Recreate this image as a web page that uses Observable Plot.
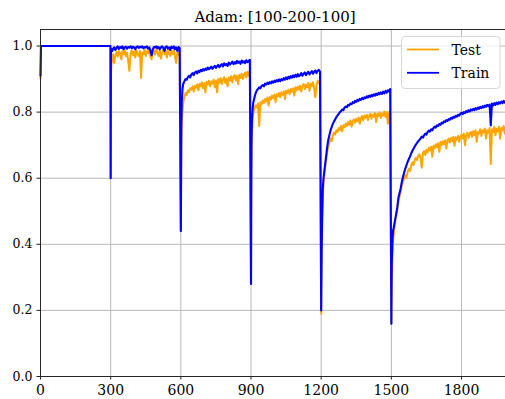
<!DOCTYPE html>
<html>
<head>
<meta charset="utf-8">
<script src="https://cdn.jsdelivr.net/npm/d3@7"></script>
<script src="https://cdn.jsdelivr.net/npm/@observablehq/plot@0.6"></script>
<style>
  html, body { margin: 0; padding: 0; background: #fff; }
  #wrap { position: relative; width: 505px; height: 399px; overflow: hidden; }
  #legend { position: absolute; left: 0; top: 0; pointer-events: none; }
</style>
</head>
<body>
<div id="wrap"></div>
<script>
const chartTitle = "Adam: [100-200-100]";
const seriesNames = ["Test", "Train"];
const seriesColors = ["#FFA500", "#0000FF"];
const xTicks = [0, 300, 600, 900, 1200, 1500, 1800];
const yTicks = [0, 0.2, 0.4, 0.6, 0.8, 1.0];

// Phase 1 (epochs 0-299)
const phase1Epochs = [0, 2, 299];
const train1 = [0.91, 1.0, 1.0];
const test1 = [0.90, 1.0, 1.0];

// Later phases: start epoch, head samples at headOffsets, body samples every 5 epochs from offset 10
const phaseStarts = [300, 600, 900, 1200, 1500];
const headOffsets = [0, 1, 2, 4, 7];

const trainHeads = [
  [0.60, 0.975, 0.985, 0.99, 0.985],
  [0.44, 0.60, 0.75, 0.83, 0.87],
  [0.28, 0.55, 0.70, 0.78, 0.81],
  [0.20, 0.30, 0.38, 0.48, 0.57],
  [0.16, 0.28, 0.35, 0.40, 0.44]
];
const testHeads = [
  [0.60, 0.89, 0.93, 0.95, 0.96],
  [0.44, 0.55, 0.68, 0.77, 0.80],
  [0.28, 0.50, 0.65, 0.74, 0.78],
  [0.19, 0.28, 0.36, 0.46, 0.55],
  [0.16, 0.25, 0.30, 0.36, 0.41]
];

const trainBody2 = [0.992,0.996,0.988,0.995,0.999,0.991,0.997,0.994,0.999,0.990,0.996,0.998,0.992,0.997,0.995,0.999,0.993,0.998,0.996,0.990,0.997,0.999,0.994,0.998,0.996,0.999,0.993,0.997,0.995,0.999,0.992,0.996,0.985,0.972,0.990,0.997,0.995,0.999,0.993,0.997,0.990,0.996,0.999,0.994,0.985,0.997,0.999,0.992,0.996,0.988,0.998,0.994,0.999,0.990,0.996,0.985,0.997,0.994];
const testBody2 = [0.975,0.948,0.972,0.982,0.968,0.985,0.978,0.960,0.984,0.975,0.988,0.970,0.980,0.955,0.925,0.978,0.986,0.972,0.983,0.965,0.988,0.976,0.970,0.985,0.903,0.980,0.975,0.989,0.970,0.984,0.978,0.990,0.968,0.960,0.982,0.987,0.974,0.990,0.980,0.970,0.986,0.962,0.982,0.990,0.975,0.985,0.965,0.988,0.978,0.970,0.985,0.975,0.990,0.968,0.949,0.980,0.972,0.985];

const trainBody3 = [0.885,0.893,0.900,0.898,0.906,0.910,0.905,0.914,0.918,0.912,0.920,0.923,0.917,0.925,0.921,0.928,0.924,0.930,0.926,0.932,0.928,0.935,0.930,0.933,0.938,0.931,0.936,0.940,0.934,0.939,0.943,0.936,0.941,0.945,0.938,0.948,0.942,0.946,0.940,0.950,0.944,0.948,0.953,0.945,0.951,0.947,0.955,0.949,0.953,0.946,0.956,0.950,0.954,0.948,0.957,0.951,0.955,0.958];
const testBody3 = [0.828,0.845,0.858,0.852,0.866,0.860,0.872,0.868,0.878,0.862,0.880,0.874,0.884,0.866,0.886,0.878,0.890,0.872,0.888,0.860,0.892,0.884,0.895,0.878,0.893,0.886,0.898,0.875,0.896,0.860,0.900,0.889,0.903,0.885,0.898,0.906,0.888,0.902,0.878,0.905,0.895,0.909,0.890,0.907,0.912,0.896,0.910,0.885,0.913,0.903,0.916,0.900,0.914,0.920,0.905,0.922,0.910,0.925];

const trainBody4 = [0.830,0.845,0.858,0.866,0.870,0.875,0.872,0.879,0.882,0.878,0.886,0.883,0.889,0.885,0.891,0.887,0.893,0.889,0.895,0.891,0.897,0.893,0.899,0.894,0.900,0.896,0.903,0.898,0.905,0.900,0.907,0.902,0.909,0.904,0.911,0.906,0.913,0.907,0.915,0.909,0.912,0.918,0.910,0.916,0.920,0.912,0.918,0.922,0.914,0.920,0.924,0.916,0.922,0.926,0.918,0.925,0.928,0.922];
const testBody4 = [0.800,0.812,0.820,0.814,0.826,0.758,0.830,0.824,0.835,0.828,0.840,0.832,0.844,0.820,0.846,0.838,0.850,0.842,0.853,0.830,0.855,0.848,0.858,0.845,0.860,0.852,0.863,0.840,0.865,0.857,0.868,0.855,0.870,0.862,0.872,0.850,0.875,0.866,0.877,0.868,0.880,0.862,0.878,0.885,0.870,0.883,0.875,0.888,0.865,0.886,0.878,0.890,0.872,0.845,0.882,0.895,0.888,0.890];

const trainBody5 = [0.600,0.630,0.660,0.690,0.715,0.730,0.745,0.755,0.765,0.772,0.778,0.785,0.790,0.795,0.800,0.803,0.808,0.806,0.814,0.817,0.815,0.822,0.820,0.826,0.824,0.830,0.828,0.834,0.831,0.837,0.834,0.840,0.837,0.843,0.839,0.845,0.842,0.848,0.844,0.850,0.846,0.852,0.848,0.854,0.850,0.856,0.852,0.858,0.854,0.860,0.855,0.862,0.857,0.864,0.859,0.866,0.862,0.870];
const testBody5 = [0.590,0.625,0.650,0.675,0.695,0.708,0.720,0.712,0.730,0.738,0.732,0.745,0.740,0.752,0.745,0.758,0.742,0.760,0.754,0.765,0.758,0.770,0.762,0.775,0.756,0.772,0.778,0.768,0.780,0.772,0.784,0.765,0.782,0.788,0.775,0.790,0.783,0.792,0.776,0.789,0.795,0.780,0.792,0.786,0.797,0.770,0.794,0.788,0.799,0.782,0.796,0.790,0.802,0.785,0.800,0.765,0.798,0.805];

const trainBody6 = [0.450,0.470,0.490,0.510,0.540,0.555,0.570,0.590,0.605,0.618,0.630,0.640,0.650,0.658,0.666,0.675,0.683,0.690,0.696,0.702,0.707,0.712,0.716,0.720,0.726,0.723,0.730,0.735,0.732,0.740,0.744,0.741,0.748,0.745,0.752,0.756,0.753,0.760,0.758,0.764,0.762,0.768,0.766,0.772,0.770,0.776,0.773,0.779,0.777,0.783,0.780,0.786,0.783,0.789,0.786,0.792,0.789,0.795,0.798,0.794,0.800,0.797,0.803,0.800,0.806,0.802,0.808,0.805,0.810,0.806,0.812,0.808,0.814,0.810,0.816,0.812,0.818,0.814,0.820,0.816,0.822,0.818,0.823,0.760,0.826,0.820,0.827,0.822,0.829,0.824,0.830,0.826,0.832,0.827,0.834,0.829,0.835,0.831];
const testBody6 = [0.430,0.460,0.485,0.505,0.530,0.545,0.560,0.578,0.590,0.600,0.610,0.602,0.620,0.628,0.622,0.640,0.648,0.640,0.655,0.662,0.655,0.668,0.672,0.660,0.632,0.676,0.682,0.670,0.686,0.678,0.692,0.684,0.695,0.665,0.698,0.690,0.703,0.694,0.706,0.680,0.710,0.700,0.712,0.703,0.715,0.690,0.714,0.720,0.708,0.722,0.712,0.725,0.698,0.724,0.716,0.728,0.710,0.726,0.732,0.720,0.735,0.700,0.730,0.738,0.722,0.735,0.740,0.725,0.742,0.730,0.745,0.710,0.740,0.735,0.748,0.728,0.745,0.738,0.750,0.720,0.745,0.738,0.752,0.643,0.748,0.740,0.755,0.730,0.750,0.742,0.756,0.720,0.752,0.745,0.758,0.735,0.755,0.748];

const trainBodies = [trainBody2, trainBody3, trainBody4, trainBody5, trainBody6];
const testBodies = [testBody2, testBody3, testBody4, testBody5, testBody6];

function buildSeries(first, heads, bodies) {
  const rows = phase1Epochs.map((e, i) => ({epoch: e, value: first[i]}));
  phaseStarts.forEach((start, p) => {
    heads[p].forEach((v, i) => rows.push({epoch: start + headOffsets[i], value: v}));
    bodies[p].forEach((v, i) => rows.push({epoch: start + 10 + 5 * i, value: v}));
  });
  return rows;
}
const testRows = buildSeries(test1, testHeads, testBodies);
const trainRows = buildSeries(train1, trainHeads, trainBodies);

const spine = "#262626";
const gridColor = "#b8b8b8";

const chart = Plot.plot({
  width: 505,
  height: 399,
  marginLeft: 40,
  marginRight: 0,
  marginTop: 29,
  marginBottom: 23,
  style: {fontFamily: "'DejaVu Serif', serif", background: "#fff", color: "#000"},
  x: {domain: [0, 1988]},
  y: {domain: [0, 1.05]},
  marks: [
    Plot.gridX(xTicks, {stroke: gridColor, strokeOpacity: 1, strokeWidth: 1}),
    Plot.gridY(yTicks, {stroke: gridColor, strokeOpacity: 1, strokeWidth: 1}),
    Plot.line(testRows, {x: "epoch", y: "value", stroke: seriesColors[0], strokeWidth: 2}),
    Plot.line(trainRows, {x: "epoch", y: "value", stroke: seriesColors[1], strokeWidth: 2.1}),
    Plot.ruleX([0], {stroke: spine, strokeWidth: 1}),
    Plot.ruleY([0, 1.05], {stroke: spine, strokeWidth: 1}),
    Plot.axisX(xTicks, {tickSize: 3.5, tickPadding: 5.5, fontSize: 14, label: null, tickFormat: d => String(d), stroke: spine}),
    Plot.axisY(yTicks, {tickSize: 3.5, tickPadding: 4.5, fontSize: 12.5, label: null, tickFormat: d => d.toFixed(1), stroke: spine}),
    Plot.text([chartTitle], {frameAnchor: "top", lineAnchor: "bottom", dy: -8, dx: 2, fontSize: 15, fill: "#000"})
  ]
});

const wrap = document.getElementById("wrap");
wrap.appendChild(chart);

// Legend overlay
const lg = d3.select(wrap).append("svg")
  .attr("id", "legend").attr("width", 505).attr("height", 399)
  .style("font-family", "'DejaVu Serif', serif");
lg.append("rect")
  .attr("x", 401.5).attr("y", 36.5).attr("width", 98.5).attr("height", 52)
  .attr("rx", 3.5).attr("fill", "#fff").attr("fill-opacity", 0.8)
  .attr("stroke", "#d6d6d6").attr("stroke-width", 1);
seriesNames.forEach((name, i) => {
  const yLine = 49.5 + i * 23.3;
  lg.append("line")
    .attr("x1", 407).attr("x2", 439).attr("y1", yLine).attr("y2", yLine)
    .attr("stroke", seriesColors[i]).attr("stroke-width", 1.8);
  lg.append("text")
    .attr("x", 451.5).attr("y", yLine + 5.3)
    .attr("font-size", 14).attr("fill", "#000")
    .text(name);
});
</script>
</body>
</html>
